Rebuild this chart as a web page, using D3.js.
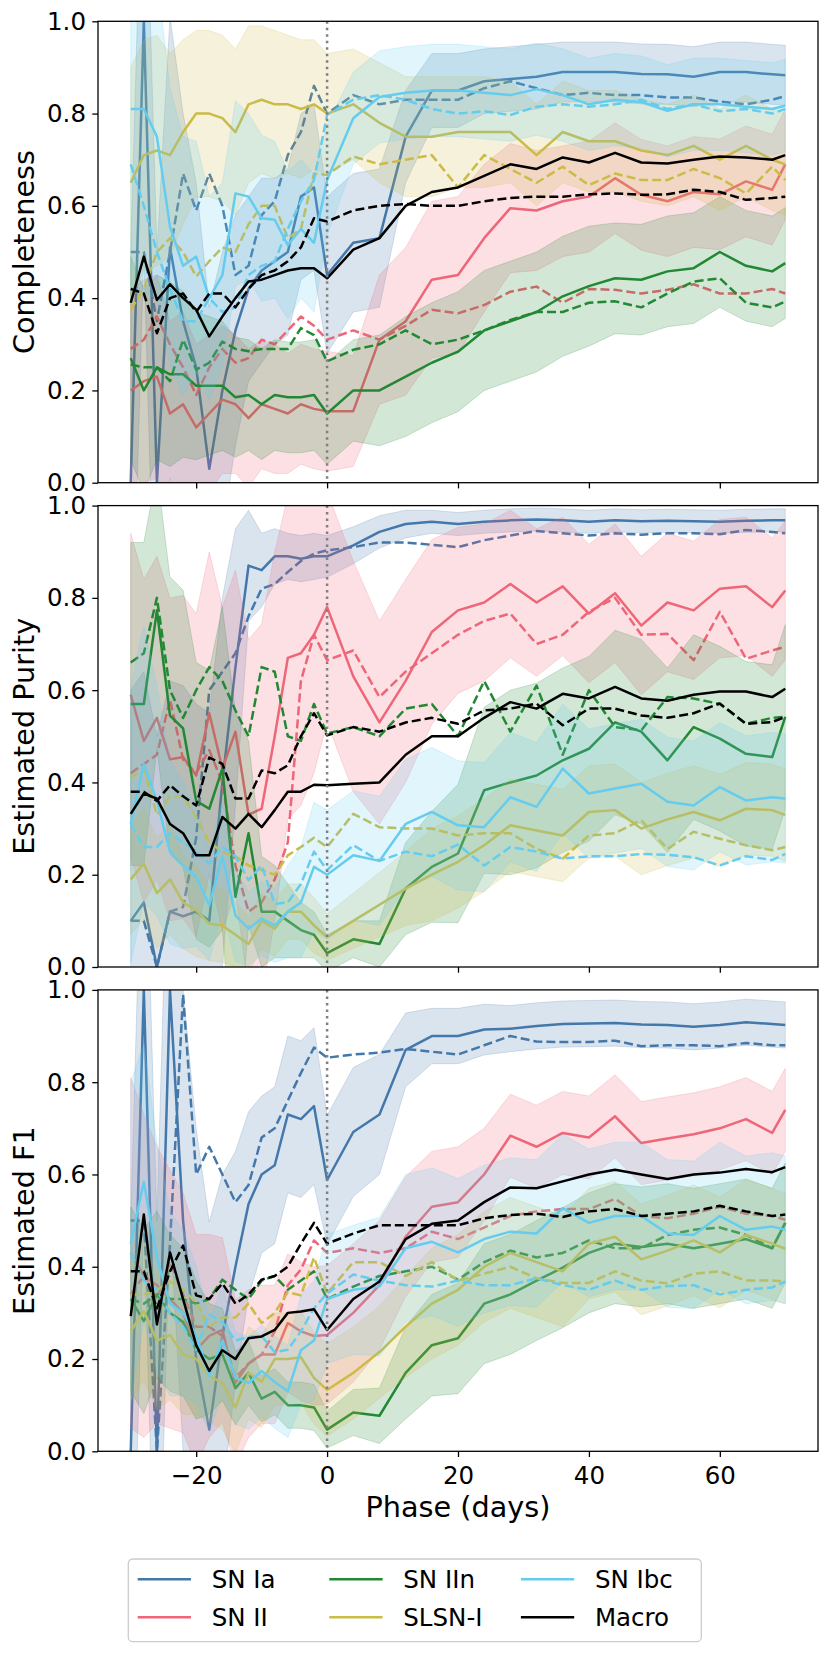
<!DOCTYPE html>
<html>
<head>
<meta charset="utf-8">
<script src="https://cdn.jsdelivr.net/npm/d3@7"></script>
<style>
  body { margin: 0; background: #fff; }
  svg { display: block; }
  text { font-family: "DejaVu Sans", sans-serif; }
</style>
</head>
<body>
<svg id="chart" width="830" height="1655"></svg>
<script>
// phase grid (days) shared by every series
const phase = [-30,-28,-26,-24,-22,-20,-18,-16,-14,-12,-10,-8,-6,-4,-2,0,
  4,8,12,16,20,24,28,32,36,40,44,48,52,56,60,64,68,70];

// ---- Completeness ----
const compIa = [0,1.0,0,0.51,0.35,0.25,0.03,0.2,0.33,0.42,0.46,0.48,0.5,0.62,0.64,0.45,
  0.52,0.53,0.75,0.85,0.85,0.87,0.875,0.88,0.89,0.89,0.89,0.886,0.885,0.88,0.89,0.89,0.885,0.883];
const compIaD = [0.5,0.5,0.35,0.5,0.67,0.59,0.67,0.6,0.45,0.47,0.58,0.61,0.71,0.76,0.86,0.8,
  0.84,0.82,0.83,0.83,0.83,0.855,0.87,0.855,0.84,0.845,0.84,0.84,0.835,0.835,0.826,0.82,0.83,0.838];
const compII = [0.2,0.22,0.23,0.15,0.17,0.12,0.15,0.18,0.17,0.14,0.17,0.16,0.15,0.17,0.16,0.155,
  0.155,0.31,0.35,0.44,0.45,0.53,0.595,0.59,0.61,0.62,0.66,0.624,0.61,0.63,0.625,0.653,0.635,0.69];
const compIID = [0.29,0.31,0.36,0.3,0.25,0.19,0.25,0.29,0.26,0.27,0.31,0.3,0.33,0.36,0.34,0.31,
  0.33,0.31,0.34,0.375,0.367,0.385,0.414,0.425,0.39,0.42,0.418,0.41,0.418,0.43,0.41,0.41,0.42,0.41];
const compIIn = [0.27,0.2,0.25,0.235,0.235,0.21,0.21,0.21,0.185,0.19,0.17,0.19,0.185,0.185,0.19,0.15,
  0.2,0.2,0.23,0.26,0.284,0.33,0.35,0.37,0.404,0.426,0.443,0.44,0.458,0.465,0.5,0.47,0.458,0.476];
const compIInD = [0.256,0.25,0.25,0.22,0.31,0.245,0.26,0.306,0.29,0.285,0.29,0.29,0.29,0.335,0.32,0.263,
  0.288,0.3,0.33,0.3,0.31,0.33,0.353,0.37,0.37,0.39,0.393,0.38,0.41,0.436,0.443,0.39,0.38,0.393];
const compSL = [0.65,0.71,0.72,0.71,0.76,0.8,0.8,0.79,0.76,0.82,0.83,0.82,0.82,0.81,0.82,0.8,
  0.82,0.78,0.75,0.75,0.76,0.76,0.76,0.71,0.76,0.74,0.74,0.72,0.71,0.73,0.7,0.73,0.7,0.69];
const compSLD = [0.375,0.42,0.5,0.53,0.5,0.447,0.48,0.51,0.5,0.56,0.6,0.6,0.53,0.55,0.67,0.667,
  0.707,0.69,0.7,0.71,0.64,0.71,0.68,0.65,0.685,0.645,0.67,0.656,0.656,0.68,0.66,0.627,0.685,0.656];
const compIbc = [0.81,0.81,0.75,0.555,0.47,0.49,0.4,0.45,0.627,0.62,0.573,0.57,0.515,0.55,0.52,0.656,
  0.79,0.836,0.845,0.85,0.85,0.845,0.84,0.853,0.84,0.82,0.83,0.825,0.806,0.82,0.82,0.815,0.81,0.817];
const compIbcD = [0.69,0.6,0.5,0.42,0.35,0.35,0.4,0.37,0.38,0.45,0.47,0.48,0.55,0.61,0.656,0.797,
  0.83,0.84,0.83,0.81,0.8,0.805,0.797,0.815,0.82,0.815,0.82,0.83,0.81,0.82,0.805,0.81,0.8,0.81];
const compMac = [0.39,0.49,0.396,0.43,0.4,0.375,0.317,0.36,0.4,0.436,0.44,0.45,0.46,0.465,0.465,0.443,
  0.505,0.53,0.6,0.63,0.64,0.665,0.69,0.68,0.705,0.694,0.715,0.694,0.692,0.7,0.707,0.705,0.7,0.71];
const compMacD = [0.42,0.41,0.324,0.4,0.41,0.37,0.41,0.41,0.38,0.42,0.45,0.46,0.48,0.51,0.573,0.566,
  0.59,0.6,0.604,0.6,0.6,0.61,0.617,0.62,0.62,0.625,0.627,0.624,0.625,0.635,0.63,0.613,0.617,0.62];
// half widths of the shaded bands (solid model only)
const compIaErr = [0.5,0.5,0.5,0.5,0.45,0.4,0.35,0.3,0.25,0.2,0.2,0.18,0.18,0.18,0.18,0.17,
  0.15,0.15,0.1,0.08,0.08,0.07,0.07,0.07,0.065,0.065,0.065,0.065,0.065,0.065,0.065,0.065,0.065,0.065];
const compIIErr = [0.22,0.22,0.22,0.2,0.2,0.18,0.17,0.16,0.15,0.15,0.14,0.14,0.13,0.13,0.13,0.13,
  0.12,0.14,0.16,0.17,0.17,0.16,0.14,0.13,0.12,0.12,0.12,0.12,0.12,0.12,0.12,0.12,0.12,0.12];
const compIInErr = [0.22,0.22,0.2,0.2,0.18,0.16,0.15,0.14,0.13,0.12,0.12,0.12,0.12,0.12,0.12,0.11,
  0.11,0.12,0.13,0.13,0.13,0.13,0.13,0.13,0.13,0.13,0.12,0.12,0.12,0.12,0.12,0.12,0.12,0.12];
const compSLErr = [0.25,0.25,0.25,0.22,0.2,0.18,0.18,0.18,0.18,0.17,0.16,0.16,0.15,0.15,0.14,0.13,
  0.12,0.13,0.13,0.13,0.12,0.12,0.11,0.11,0.11,0.11,0.11,0.11,0.11,0.11,0.11,0.11,0.11,0.11];
const compIbcErr = [0.4,0.4,0.35,0.3,0.28,0.25,0.22,0.2,0.2,0.18,0.18,0.17,0.16,0.15,0.15,0.12,
  0.1,0.1,0.1,0.1,0.1,0.1,0.1,0.1,0.1,0.1,0.1,0.1,0.1,0.1,0.1,0.1,0.1,0.1];

// ---- Estimated purity ----
const purIa = [0.1,0.14,0,0.12,0.11,0.12,0.1,0.4,0.65,0.87,0.86,0.89,0.89,0.885,0.89,0.89,
  0.914,0.943,0.96,0.965,0.96,0.965,0.968,0.97,0.968,0.965,0.968,0.966,0.967,0.966,0.965,0.967,0.968,0.968];
const purIaD = [0.1,0.1,0,0.12,0.13,0.28,0.6,0.64,0.68,0.76,0.82,0.83,0.856,0.88,0.896,0.903,
  0.91,0.92,0.92,0.915,0.91,0.925,0.935,0.945,0.94,0.935,0.94,0.937,0.94,0.94,0.938,0.947,0.943,0.94];
const purII = [0.59,0.49,0.54,0.45,0.455,0.415,0.55,0.43,0.51,0.33,0.343,0.5,0.67,0.68,0.72,0.78,
  0.63,0.53,0.62,0.726,0.773,0.79,0.83,0.79,0.825,0.766,0.81,0.74,0.79,0.773,0.82,0.825,0.78,0.816];
const purIID = [0.42,0.44,0.46,0.58,0.45,0.42,0.47,0.4,0.22,0.12,0.14,0.19,0.27,0.62,0.72,0.665,
  0.686,0.585,0.64,0.68,0.72,0.75,0.766,0.7,0.72,0.77,0.8,0.72,0.722,0.665,0.77,0.668,0.686,0.694];
const purIIn = [0.57,0.57,0.773,0.545,0.517,0.36,0.343,0.43,0.152,0.29,0.12,0.12,0.1,0.08,0.07,0.03,
  0.06,0.05,0.17,0.217,0.246,0.383,0.4,0.415,0.448,0.473,0.53,0.51,0.448,0.52,0.495,0.462,0.455,0.542];
const purIInD = [0.66,0.68,0.8,0.6,0.54,0.6,0.65,0.62,0.556,0.5,0.65,0.64,0.5,0.49,0.57,0.506,
  0.52,0.5,0.56,0.57,0.5,0.62,0.51,0.61,0.46,0.6,0.52,0.513,0.585,0.582,0.57,0.527,0.54,0.542];
const purSL = [0.19,0.224,0.16,0.19,0.14,0.123,0.094,0.09,0.07,0.05,0.1,0.083,0.12,0.12,0.09,0.065,
  0.1,0.135,0.17,0.2,0.228,0.264,0.307,0.296,0.285,0.336,0.34,0.3,0.32,0.336,0.318,0.343,0.34,0.329];
const purSLD = [0.41,0.43,0.33,0.37,0.37,0.325,0.27,0.25,0.24,0.22,0.21,0.2,0.242,0.26,0.28,0.26,
  0.332,0.303,0.3,0.3,0.285,0.29,0.29,0.256,0.235,0.285,0.29,0.318,0.256,0.293,0.278,0.264,0.253,0.26];
const purIbc = [0.31,0.44,0.36,0.25,0.22,0.195,0.134,0.24,0.112,0.083,0.105,0.09,0.12,0.14,0.217,0.2,
  0.242,0.23,0.31,0.336,0.307,0.303,0.368,0.347,0.43,0.376,0.387,0.397,0.358,0.35,0.39,0.361,0.368,0.365];
const purIbcD = [0.31,0.26,0.26,0.29,0.27,0.25,0.224,0.26,0.24,0.188,0.22,0.137,0.14,0.18,0.25,0.21,
  0.264,0.23,0.25,0.24,0.265,0.22,0.26,0.25,0.235,0.24,0.24,0.245,0.243,0.238,0.22,0.24,0.232,0.245];
const purMac = [0.332,0.376,0.365,0.31,0.29,0.242,0.242,0.325,0.3,0.332,0.303,0.34,0.38,0.38,0.395,0.394,
  0.397,0.4,0.46,0.5,0.5,0.54,0.574,0.56,0.592,0.582,0.607,0.582,0.577,0.59,0.597,0.597,0.585,0.603];
const purMacD = [0.38,0.38,0.36,0.394,0.37,0.35,0.454,0.44,0.365,0.365,0.426,0.42,0.437,0.5,0.55,0.502,
  0.52,0.51,0.53,0.54,0.527,0.556,0.56,0.571,0.524,0.56,0.56,0.545,0.54,0.55,0.571,0.527,0.531,0.542];
const purIaErr = [0.5,0.5,0.5,0.5,0.5,0.45,0.45,0.4,0.3,0.12,0.08,0.06,0.05,0.05,0.05,0.045,
  0.04,0.035,0.03,0.025,0.025,0.025,0.025,0.025,0.025,0.025,0.025,0.025,0.025,0.025,0.025,0.025,0.025,0.025];
const purIIErr = [0.35,0.35,0.35,0.35,0.35,0.35,0.35,0.35,0.35,0.38,0.4,0.4,0.35,0.33,0.3,0.25,
  0.25,0.22,0.22,0.2,0.18,0.17,0.16,0.16,0.15,0.15,0.15,0.15,0.15,0.15,0.15,0.15,0.15,0.15];
const purIInErr = [0.35,0.35,0.3,0.3,0.3,0.3,0.3,0.35,0.4,0.2,0.12,0.1,0.08,0.06,0.05,0.04,
  0.04,0.05,0.1,0.12,0.15,0.18,0.2,0.2,0.2,0.2,0.2,0.2,0.2,0.2,0.2,0.2,0.2,0.2];
const purSLErr = [0.12,0.12,0.12,0.12,0.1,0.1,0.08,0.08,0.07,0.06,0.06,0.06,0.06,0.06,0.06,0.05,
  0.06,0.07,0.08,0.1,0.1,0.1,0.1,0.1,0.1,0.1,0.1,0.1,0.1,0.1,0.1,0.1,0.1,0.1];
const purIbcErr = [0.3,0.3,0.25,0.2,0.18,0.15,0.12,0.12,0.1,0.08,0.08,0.08,0.1,0.12,0.14,0.14,
  0.14,0.14,0.14,0.14,0.14,0.14,0.14,0.14,0.14,0.14,0.14,0.14,0.14,0.14,0.14,0.14,0.14,0.14];

// ---- Estimated F1 ----
const f1Ia = [0,1.0,0,1.0,0.5,0.2,0.047,0.25,0.4,0.536,0.6,0.62,0.73,0.72,0.748,0.588,
  0.692,0.73,0.87,0.9,0.9,0.914,0.916,0.922,0.926,0.927,0.928,0.925,0.924,0.92,0.924,0.93,0.926,0.924];
const f1IaD = [0.5,0.5,0,0.45,0.99,0.6,0.66,0.6,0.54,0.577,0.68,0.7,0.76,0.82,0.875,0.853,
  0.86,0.864,0.872,0.866,0.86,0.88,0.9,0.888,0.887,0.887,0.89,0.878,0.88,0.88,0.878,0.885,0.88,0.88];
const f1II = [0.43,0.38,0.36,0.33,0.3,0.22,0.25,0.263,0.148,0.19,0.21,0.21,0.278,0.26,0.25,0.252,
  0.3,0.36,0.465,0.53,0.54,0.6,0.684,0.66,0.69,0.68,0.726,0.668,0.678,0.687,0.7,0.72,0.69,0.74];
const f1IID = [0.34,0.38,0.33,0.41,0.34,0.27,0.27,0.25,0.16,0.19,0.21,0.26,0.36,0.394,0.457,0.43,
  0.44,0.43,0.44,0.476,0.46,0.485,0.51,0.52,0.525,0.525,0.547,0.51,0.505,0.515,0.53,0.515,0.51,0.502];
const f1IIn = [0.33,0.282,0.34,0.3,0.28,0.22,0.2,0.21,0.137,0.17,0.114,0.129,0.1,0.1,0.095,0.047,
  0.084,0.077,0.17,0.23,0.245,0.32,0.34,0.37,0.398,0.43,0.45,0.443,0.45,0.44,0.45,0.46,0.44,0.495];
const f1IInD = [0.33,0.32,0.34,0.33,0.33,0.32,0.33,0.372,0.35,0.33,0.37,0.38,0.35,0.37,0.39,0.33,
  0.357,0.38,0.39,0.4,0.372,0.41,0.435,0.42,0.43,0.457,0.44,0.44,0.469,0.48,0.485,0.469,0.44,0.495];
const f1SL = [0.26,0.304,0.24,0.252,0.21,0.2,0.163,0.148,0.095,0.17,0.151,0.2,0.2,0.204,0.159,0.133,
  0.17,0.215,0.27,0.32,0.35,0.4,0.43,0.41,0.39,0.45,0.465,0.416,0.435,0.457,0.431,0.469,0.45,0.439];
const f1SLD = [0.34,0.34,0.35,0.368,0.35,0.323,0.27,0.29,0.29,0.32,0.278,0.3,0.345,0.338,0.42,0.342,
  0.41,0.41,0.38,0.41,0.37,0.385,0.4,0.375,0.365,0.365,0.39,0.37,0.364,0.385,0.39,0.37,0.37,0.368];
const f1Ibc = [0.45,0.584,0.42,0.32,0.3,0.252,0.163,0.24,0.159,0.148,0.174,0.15,0.13,0.219,0.24,0.33,
  0.35,0.357,0.44,0.454,0.431,0.46,0.476,0.472,0.527,0.495,0.51,0.51,0.472,0.469,0.51,0.48,0.487,0.48];
const f1IbcD = [0.43,0.37,0.35,0.3,0.27,0.22,0.297,0.28,0.24,0.248,0.25,0.215,0.22,0.26,0.31,0.342,
  0.383,0.37,0.36,0.357,0.37,0.36,0.36,0.375,0.36,0.35,0.37,0.35,0.358,0.36,0.34,0.35,0.355,0.368];
const f1Mac = [0.293,0.513,0.275,0.431,0.33,0.23,0.174,0.219,0.2,0.245,0.249,0.263,0.3,0.303,0.308,0.263,
  0.33,0.368,0.46,0.493,0.5,0.54,0.572,0.57,0.585,0.6,0.61,0.6,0.59,0.6,0.604,0.612,0.605,0.616];
const f1MacD = [0.39,0.39,0.31,0.39,0.446,0.338,0.33,0.364,0.32,0.34,0.372,0.38,0.4,0.45,0.495,0.45,
  0.472,0.49,0.49,0.49,0.49,0.505,0.512,0.515,0.508,0.52,0.525,0.51,0.515,0.52,0.532,0.52,0.51,0.513];
const f1IaErr = [0.5,0.5,0.5,0.5,0.5,0.5,0.45,0.35,0.25,0.2,0.17,0.17,0.17,0.17,0.17,0.14,
  0.14,0.13,0.08,0.06,0.06,0.055,0.05,0.05,0.05,0.05,0.05,0.05,0.05,0.05,0.05,0.05,0.05,0.05];
const f1IIErr = [0.38,0.35,0.3,0.28,0.26,0.25,0.22,0.2,0.18,0.16,0.15,0.15,0.15,0.15,0.15,0.15,
  0.15,0.14,0.13,0.12,0.12,0.1,0.09,0.09,0.09,0.09,0.09,0.09,0.09,0.09,0.09,0.09,0.09,0.09];
const f1IInErr = [0.2,0.2,0.18,0.17,0.16,0.15,0.12,0.1,0.08,0.07,0.05,0.05,0.05,0.05,0.05,0.04,
  0.05,0.06,0.1,0.11,0.12,0.13,0.13,0.13,0.13,0.13,0.13,0.13,0.13,0.13,0.13,0.13,0.13,0.13];
const f1SLErr = [0.15,0.15,0.15,0.14,0.13,0.12,0.1,0.1,0.1,0.1,0.1,0.1,0.1,0.1,0.1,0.1,
  0.1,0.1,0.11,0.12,0.12,0.12,0.12,0.12,0.12,0.12,0.12,0.12,0.12,0.12,0.12,0.12,0.12,0.12];
const f1IbcErr = [0.35,0.3,0.25,0.2,0.18,0.15,0.12,0.12,0.1,0.1,0.1,0.1,0.1,0.12,0.13,0.14,
  0.14,0.15,0.16,0.16,0.16,0.16,0.16,0.16,0.16,0.16,0.16,0.16,0.16,0.16,0.16,0.16,0.16,0.16];

const classNames = ["SN Ia", "SN II", "SN IIn", "SLSN-I", "SN Ibc", "Macro"];
const classColors = ["#4477AA", "#EE6677", "#228833", "#CCBB44", "#66CCEE", "#000000"];
const panelLabels = ["Completeness", "Estimated Purity", "Estimated F1"];
const yTicks = [0, 0.2, 0.4, 0.6, 0.8, 1.0];
const xTicks = [-20, 0, 20, 40, 60];

const solidSeries = [
  [compIa, compII, compIIn, compSL, compIbc, compMac],
  [purIa, purII, purIIn, purSL, purIbc, purMac],
  [f1Ia, f1II, f1IIn, f1SL, f1Ibc, f1Mac]
];
const dashedSeries = [
  [compIaD, compIID, compIInD, compSLD, compIbcD, compMacD],
  [purIaD, purIID, purIInD, purSLD, purIbcD, purMacD],
  [f1IaD, f1IID, f1IInD, f1SLD, f1IbcD, f1MacD]
];
const bandSeries = [
  [compIaErr, compIIErr, compIInErr, compSLErr, compIbcErr, null],
  [purIaErr, purIIErr, purIInErr, purSLErr, purIbcErr, null],
  [f1IaErr, f1IIErr, f1IInErr, f1SLErr, f1IbcErr, null]
];

// layout
const LEFT = 98, RIGHT = 818;
const PANEL_TOP = 21.3, PANEL_H = 461.4, PANEL_STEP = 484.3;
const TICK_FONT = "24.5px", LABEL_FONT = "28.7px";
const LINE_W = 2.5;

const svg = d3.select("#chart");
const x = d3.scaleLinear().domain([-35, 75]).range([LEFT, RIGHT]);

panelLabels.forEach((label, p) => {
  const top = PANEL_TOP + p * PANEL_STEP;
  const bottom = top + PANEL_H;
  const y = d3.scaleLinear().domain([0, 1]).range([bottom, top]);

  svg.append("clipPath").attr("id", "clip" + p)
    .append("rect")
    .attr("x", LEFT).attr("y", top)
    .attr("width", RIGHT - LEFT).attr("height", PANEL_H);

  const plot = svg.append("g").attr("clip-path", "url(#clip" + p + ")");

  const line = d3.line()
    .x((d, i) => x(phase[i]))
    .y(d => y(d));

  classNames.forEach((name, k) => {
    const vals = solidSeries[p][k];
    const err = bandSeries[p][k];
    if (err) {
      const area = d3.area()
        .x((d, i) => x(phase[i]))
        .y0((d, i) => y(d - err[i]))
        .y1((d, i) => y(d + err[i]));
      plot.append("path")
        .datum(vals)
        .attr("d", area)
        .attr("fill", classColors[k])
        .attr("fill-opacity", 0.2)
        .attr("stroke", classColors[k])
        .attr("stroke-opacity", 0.2)
        .attr("stroke-width", 1);
    }
    plot.append("path")
      .datum(vals)
      .attr("d", line)
      .attr("fill", "none")
      .attr("stroke", classColors[k])
      .attr("stroke-width", LINE_W)
      .attr("stroke-linejoin", "round");
    plot.append("path")
      .datum(dashedSeries[p][k])
      .attr("d", line)
      .attr("fill", "none")
      .attr("stroke", classColors[k])
      .attr("stroke-width", LINE_W)
      .attr("stroke-linejoin", "round")
      .attr("stroke-dasharray", "9,4");
  });

  // dotted marker at phase 0
  plot.append("line")
    .attr("x1", x(0)).attr("x2", x(0))
    .attr("y1", top).attr("y2", bottom)
    .attr("stroke", "#808080")
    .attr("stroke-width", 2.5)
    .attr("stroke-dasharray", "2.5,4");

  // axes
  const yAxis = d3.axisLeft(y)
    .tickValues(yTicks)
    .tickFormat(d3.format(".1f"))
    .tickSize(5.7)
    .tickPadding(6.3);
  const gy = svg.append("g")
    .attr("transform", "translate(" + LEFT + ",0)")
    .call(yAxis);

  const xAxis = d3.axisBottom(x)
    .tickValues(xTicks)
    .tickFormat(p === 2 ? (d => d < 0 ? "\u2212" + Math.abs(d) : String(d)) : "")
    .tickSize(5.7)
    .tickPadding(9.6);
  const gx = svg.append("g")
    .attr("transform", "translate(0," + bottom + ")")
    .call(xAxis);

  [gx, gy].forEach(g => {
    g.select(".domain").remove();
    g.selectAll(".tick line").attr("stroke", "#000").attr("stroke-width", 1.3);
    g.selectAll(".tick text")
      .attr("fill", "#000")
      .style("font-family", "'DejaVu Sans', sans-serif")
      .style("font-size", TICK_FONT);
  });

  // frame
  svg.append("rect")
    .attr("x", LEFT).attr("y", top)
    .attr("width", RIGHT - LEFT).attr("height", PANEL_H)
    .attr("fill", "none")
    .attr("stroke", "#000")
    .attr("stroke-width", 1.3);

  svg.append("text")
    .attr("transform", "translate(33.5," + (top + PANEL_H / 2) + ") rotate(-90)")
    .attr("text-anchor", "middle")
    .style("font-size", LABEL_FONT)
    .text(label);
});

svg.append("text")
  .attr("x", (LEFT + RIGHT) / 2)
  .attr("y", 1516.7)
  .attr("text-anchor", "middle")
  .style("font-size", LABEL_FONT)
  .text("Phase (days)");

// legend, three columns filled column first
const legend = svg.append("g");
legend.append("rect")
  .attr("x", 128.3).attr("y", 1559)
  .attr("width", 573).attr("height", 82.7)
  .attr("rx", 4.5)
  .attr("fill", "#fff")
  .attr("fill-opacity", 0.8)
  .attr("stroke", "#cccccc")
  .attr("stroke-width", 1.3);

classNames.forEach((name, k) => {
  const col = Math.floor(k / 2), row = k % 2;
  const lx = 137.7 + col * 191.6;
  const ly = 1579.3 + row * 38;
  legend.append("line")
    .attr("x1", lx).attr("x2", lx + 53.3)
    .attr("y1", ly).attr("y2", ly)
    .attr("stroke", classColors[k])
    .attr("stroke-width", LINE_W);
  legend.append("text")
    .attr("x", lx + 74)
    .attr("y", ly + 9)
    .style("font-size", TICK_FONT)
    .text(name);
});
</script>
</body>
</html>
